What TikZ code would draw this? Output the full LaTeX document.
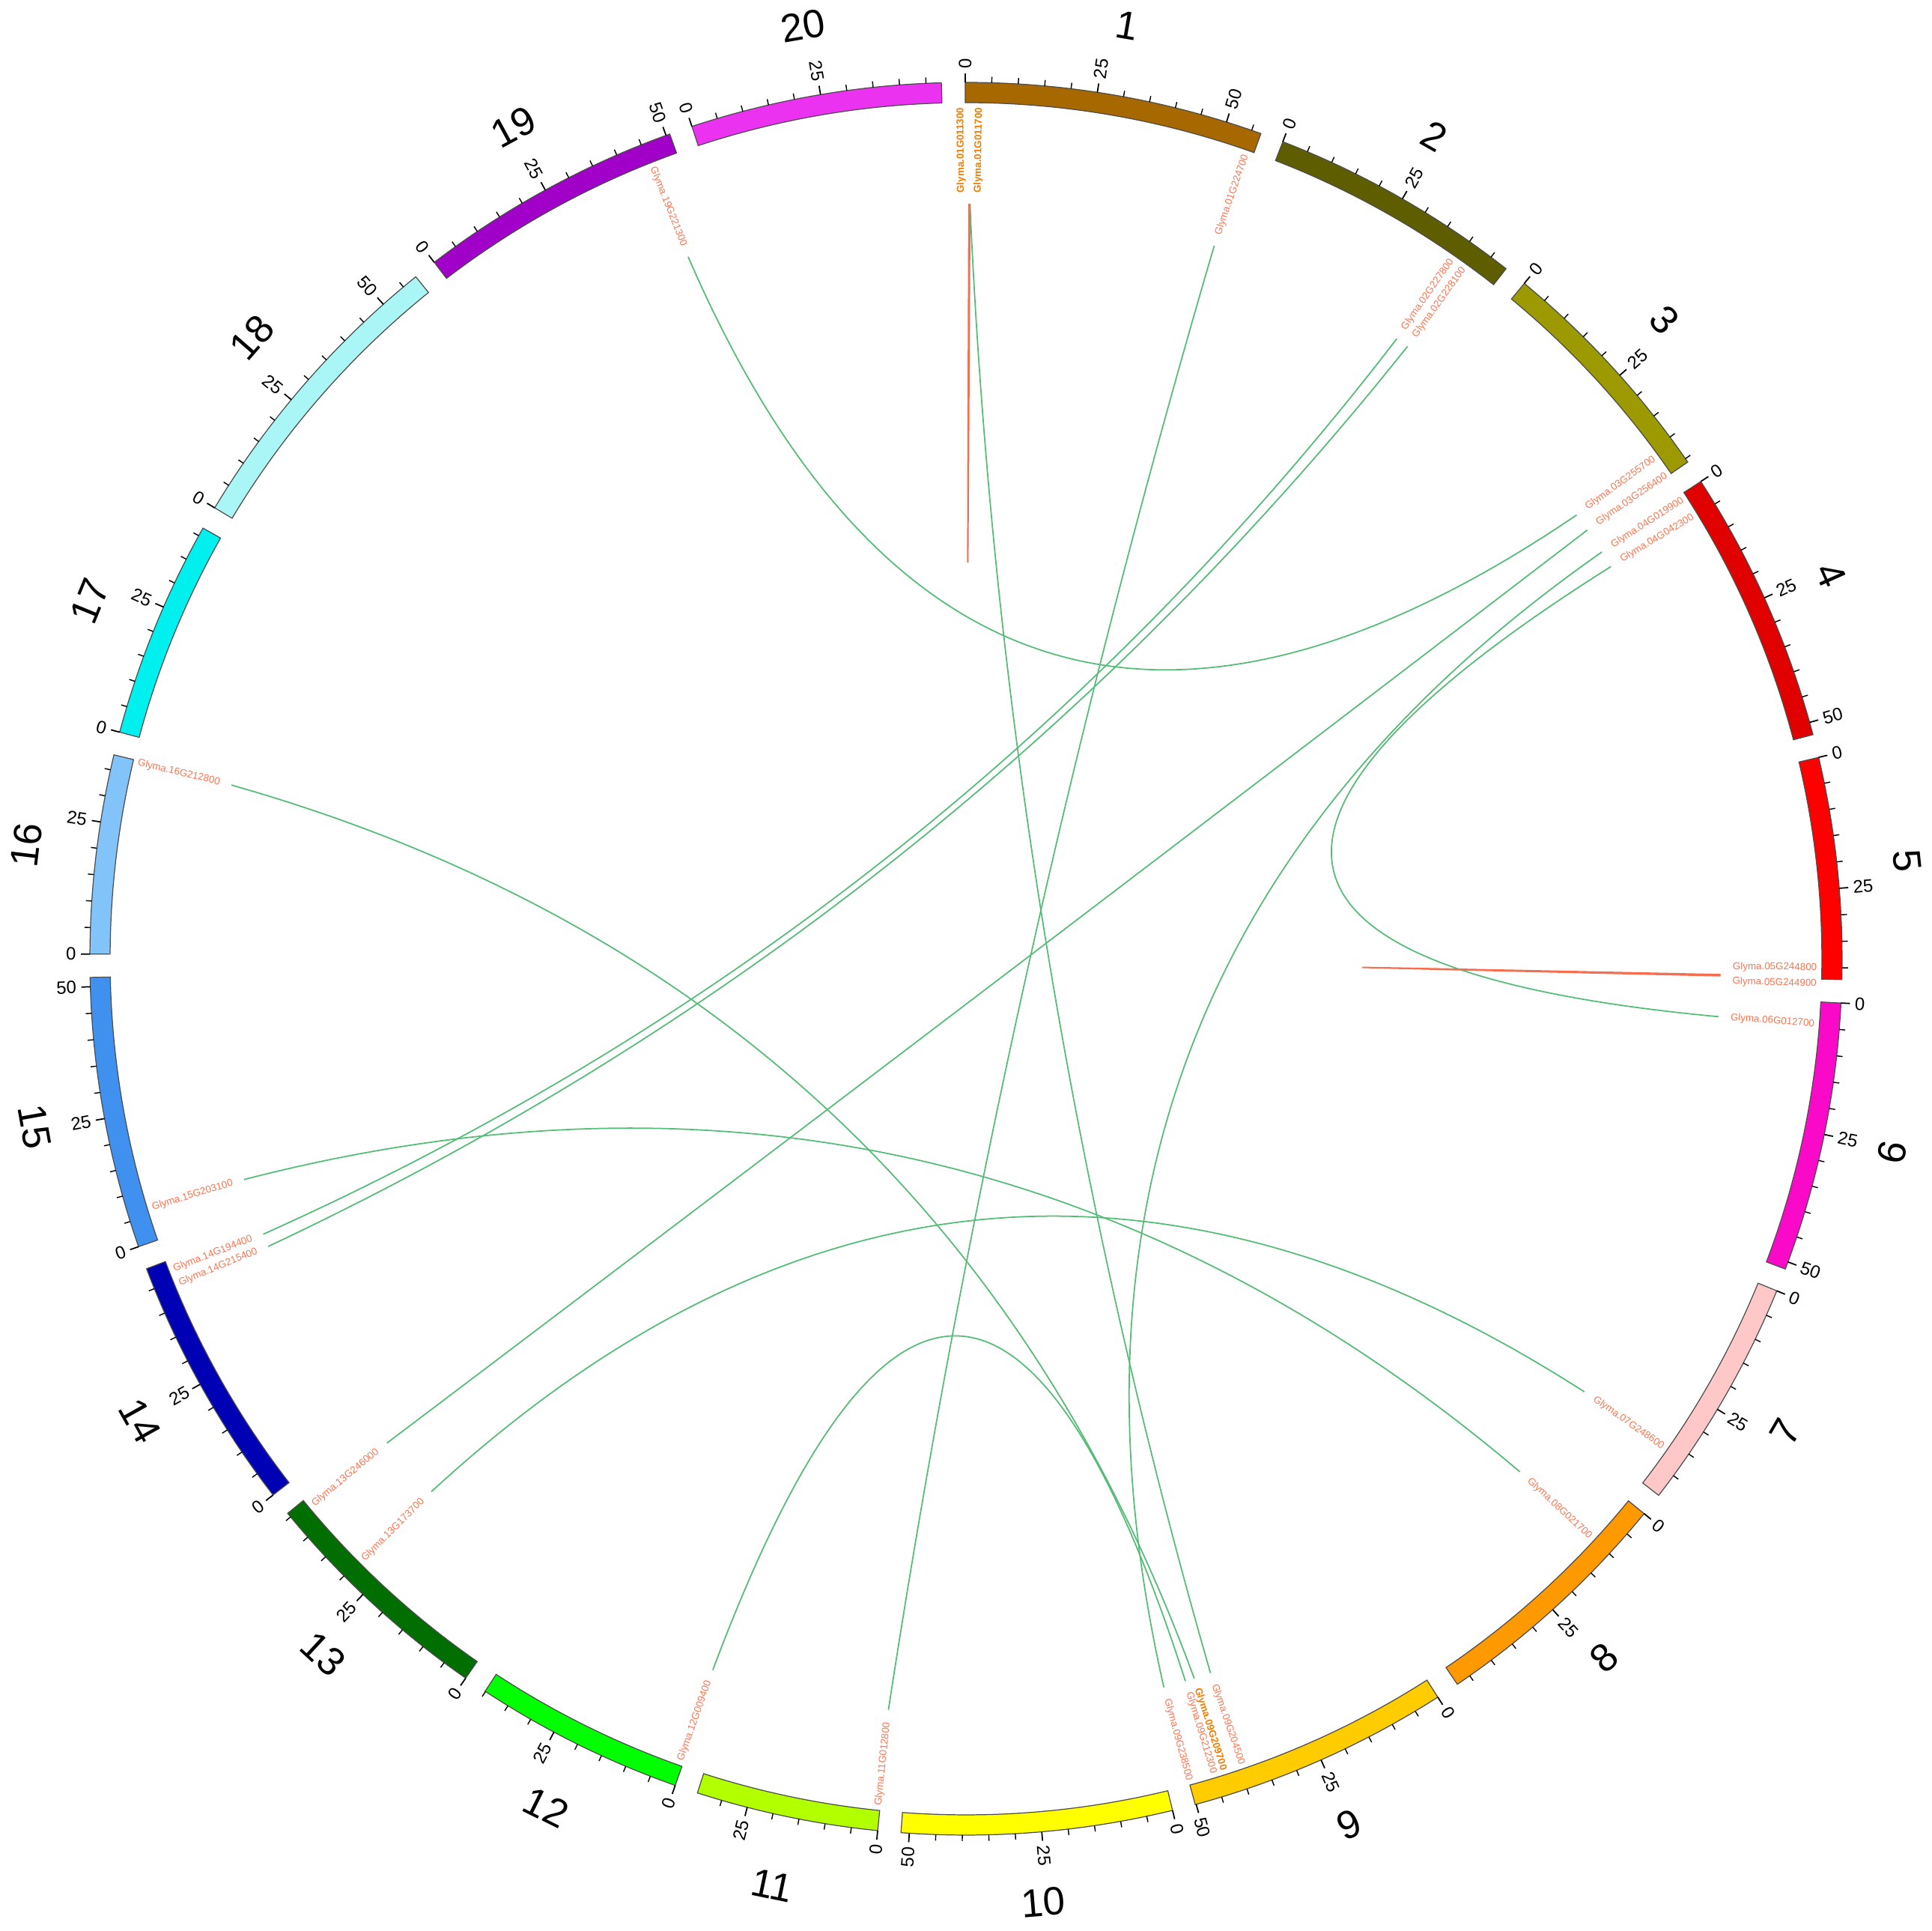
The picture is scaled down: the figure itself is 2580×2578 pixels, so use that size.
\documentclass[tikz,border=0pt]{standalone}
\usepackage{fontspec}
\setmainfont{Liberation Sans}
\usetikzlibrary{calc}
\definecolor{c1}{RGB}{168,104,0}
\definecolor{c2}{RGB}{94,94,0}
\definecolor{c3}{RGB}{156,154,0}
\definecolor{c4}{RGB}{224,0,0}
\definecolor{c5}{RGB}{255,0,0}
\definecolor{c6}{RGB}{250,10,200}
\definecolor{c7}{RGB}{255,200,200}
\definecolor{c8}{RGB}{255,153,0}
\definecolor{c9}{RGB}{255,204,0}
\definecolor{c10}{RGB}{255,255,0}
\definecolor{c11}{RGB}{178,255,0}
\definecolor{c12}{RGB}{0,255,0}
\definecolor{c13}{RGB}{0,110,0}
\definecolor{c14}{RGB}{0,0,180}
\definecolor{c15}{RGB}{64,144,240}
\definecolor{c16}{RGB}{130,195,250}
\definecolor{c17}{RGB}{0,240,240}
\definecolor{c18}{RGB}{170,245,245}
\definecolor{c19}{RGB}{160,0,200}
\definecolor{c20}{RGB}{235,50,240}
\definecolor{linkgreen}{RGB}{85,188,120}
\definecolor{linkred}{RGB}{245,110,80}
\definecolor{gcoral}{RGB}{255,115,80}
\definecolor{gorange}{RGB}{240,125,0}
\newcommand\qlink[3][greenlink]{%
  \coordinate (qs) at ($(#2)+(#3)$);
  \coordinate (qc) at ($(O)!0.5cm!(qs)$);
  \draw[#1] (#2) .. controls ($(#2)!0.6667!(qc)$) and ($(#3)!0.6667!(qc)$) .. (#3);}
\begin{document}
\begin{tikzpicture}[x=0.01cm,y=0.01cm,
  glab/.style={inner sep=0pt, font=\fontsize{3.8}{4.5}\selectfont},
  tlab/.style={inner sep=0pt, font=\fontsize{6.8}{8}\selectfont},
  clab/.style={inner sep=0pt, font=\fontsize{15}{17}\selectfont},
  chrom/.style={draw=black!70, line width=0.35pt},
  tickmark/.style={line width=0.5pt, black},
  greenlink/.style={linkgreen, line width=0.5pt},
  redlink/.style={linkred, line width=0.5pt}]
\useasboundingbox (-1290,-1298) rectangle (1290,1280);
\coordinate (O) at (0,0);
\def\kmb{0.347}\def\gapd{1.53}\def\szero{-0.05}
\def\rin{1143}\def\rout{1170}
\foreach \id/\len/\cum in {1/56.83/0, 2/48.58/56.83, 3/45.78/105.41, 4/52.39/151.19,
  5/42.23/203.58, 6/51.42/245.81, 7/44.63/297.23, 8/47.84/341.86, 9/50.19/389.70,
  10/51.57/439.89, 11/34.77/491.46, 12/40.09/526.23, 13/45.87/566.32, 14/49.04/612.19,
  15/51.76/661.23, 16/37.89/712.99, 17/41.64/750.88, 18/58.02/792.52, 19/50.75/850.54,
  20/47.90/901.29} {
  \pgfmathsetmacro\ts{\szero+\cum*\kmb+(\id-1)*\gapd}
  \pgfmathsetmacro\te{\ts+\len*\kmb}
  \pgfmathsetmacro\as{90-\ts}
  \pgfmathsetmacro\ae{90-\te}
  \draw[chrom, fill=c\id] (\as:\rin) arc[start angle=\as, end angle=\ae, radius=\rin]
     -- (\ae:\rout) arc[start angle=\ae, end angle=\as, radius=\rout] -- cycle;
  \pgfmathtruncatemacro\nt{\len/5}
  \foreach \j in {0,...,\nt} {
    \pgfmathsetmacro\tj{\ts+5*\j*\kmb}
    \pgfmathsetmacro\aj{90-\tj}
    \pgfmathtruncatemacro\maj{mod(\j,5)==0 ? 1 : 0}
    \ifnum\maj=1
      \draw[tickmark] (\aj:\rout) -- (\aj:1182);
      \pgfmathtruncatemacro\lab{5*\j}
      \ifdim\tj pt<180pt
        \node[tlab, rotate=\aj, anchor=west] (t\id-\j) at (\aj:1188) {\lab};
      \else
        \pgfmathsetmacro\ajr{\aj+180}
        \node[tlab, rotate=\ajr, anchor=east] (t\id-\j) at (\aj:1188) {\lab};
      \fi
    \else
      \draw[tickmark, line width=0.4pt] (\aj:\rout) -- (\aj:1178);
    \fi
  }
  \pgfmathsetmacro\tm{\ts+\len*\kmb/2}
  \pgfmathsetmacro\am{90-\tm}
  \ifdim\tm pt>90pt
    \ifdim\tm pt<270pt
      \pgfmathsetmacro\rot{180-\tm}
    \else
      \pgfmathsetmacro\rot{-\tm}
    \fi
  \else
    \pgfmathsetmacro\rot{-\tm}
  \fi
  \node[clab, rotate=\rot] (n\id) at (\am:1264) {\id};
}
\foreach \n/\tl/\tk/\txt/\c in {
  g1a/-0.35/0.22/{\bfseries Glyma.01G011300}/gorange,
  g1b/0.9/0.30/{\bfseries Glyma.01G011700}/gorange,
  g1c/19.2/19.2/Glyma.01G224700/gcoral,
  g2a/34.8/34.8/Glyma.02G227800/gcoral,
  g2b/35.8/35.8/Glyma.02G228100/gcoral,
  g3a/54.0/54.0/Glyma.03G255700/gcoral,
  g3b/55.4/55.4/Glyma.03G256400/gcoral,
  g4a/57.4/57.4/Glyma.04G019900/gcoral,
  g4b/58.7/58.7/Glyma.04G042300/gcoral,
  g5a/90.6/91.2/Glyma.05G244800/gcoral,
  g5b/91.7/91.3/Glyma.05G244900/gcoral,
  g6/94.4/94.4/Glyma.06G012700/gcoral,
  g7/125.0/125.0/Glyma.07G248600/gcoral,
  g8/132.8/132.8/Glyma.08G021700/gcoral,
  g9a/164.8/164.8/Glyma.09G238500/gcoral,
  g9b/163.1/163.1/Glyma.09G212300/gcoral,
  g9c/162.4/162.4/{\bfseries Glyma.09G209700}/gorange,
  g9d/161.1/161.1/Glyma.09G204500/gcoral,
  g11a/185.9/185.9/Glyma.11G012800/gcoral,
  g12/199.6/199.6/Glyma.12G009400/gcoral,
  g13a/230.1/230.1/Glyma.13G246000/gcoral,
  g13b/225.1/225.1/Glyma.13G173700/gcoral,
  g14a/248.6/248.6/Glyma.14G194400/gcoral,
  g14b/247.6/247.6/Glyma.14G215400/gcoral,
  g15/253.0/253.0/Glyma.15G203100/gcoral,
  g16/283.3/283.3/Glyma.16G212800/gcoral,
  g19/338.4/338.4/Glyma.19G221300/gcoral} {
  \pgfmathsetmacro\al{90-\tl}
  \pgfmathsetmacro\ak{90-\tk}
  \coordinate (\n) at (\ak:1008);
  \ifdim\tl pt<180pt
    \node[glab, text=\c, rotate=\al, anchor=east] (l\n) at (\al:1137) {\txt};
  \else
    \pgfmathsetmacro\alr{\al+180}
    \node[glab, text=\c, rotate=\alr, anchor=west] (l\n) at (\al:1137) {\txt};
  \fi
}
\qlink{g19}{g3a}
\qlink{g2a}{g14a}
\qlink{g2b}{g14b}
\qlink{g1c}{g11a}
\qlink{g1b}{g9d}
\qlink{g16}{g9c}
\qlink{g12}{g9b}
\qlink{g4a}{g9a}
\qlink{g3b}{g13a}
\qlink{g4b}{g6}
\qlink{g15}{g8}
\qlink{g13b}{g7}
\qlink[redlink]{g1a}{g1b}
\qlink[redlink]{g5a}{g5b}
\end{tikzpicture}
\end{document}
